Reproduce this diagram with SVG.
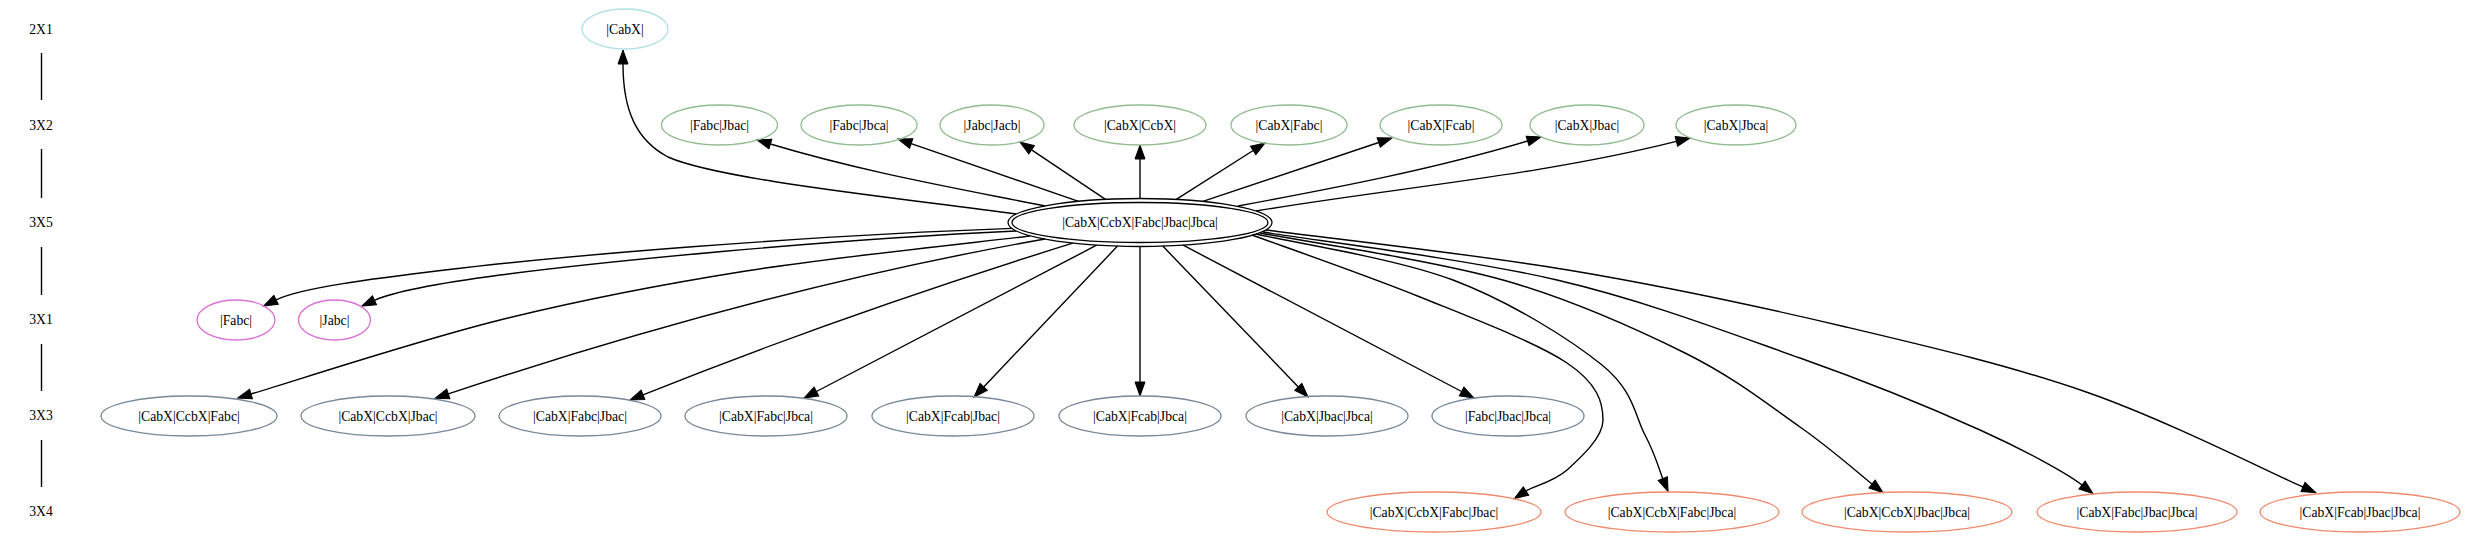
<svg xmlns="http://www.w3.org/2000/svg" width="2467" height="541" viewBox="0 0 2467 541">
<style>
text{font-family:"Liberation Serif","Times New Roman",serif;font-size:13.7px;text-anchor:middle;fill:#000}
ellipse{fill:none;stroke-width:1.3}
.c1 ellipse{stroke:#b0e0e6}
.c2 ellipse{stroke:#8fbc8f}
.c3 ellipse{stroke:#da70d6}
.c4 ellipse{stroke:#778899}
.c5 ellipse{stroke:#ef8a6c}
.c0 ellipse{stroke:#000}
#edges path{fill:none;stroke:#000;stroke-width:1.4;marker-end:url(#ah)}
#ranklines line{stroke:#000;stroke-width:1.4}
</style>
<defs>
<marker id="ah" markerUnits="userSpaceOnUse" markerWidth="16" markerHeight="12" viewBox="0 -6 16 12" refX="0" refY="0" orient="auto" overflow="visible">
<path d="M0,-5 L14,0 L0,5 Z" fill="#000" stroke="#000" stroke-width="1"/>
</marker>
</defs>
<rect width="2467" height="541" fill="#fff"/>

<g id="ranks">
<g id="r2X1"><text x="41" y="33.5">2X1</text></g>
<g id="r3X2"><text x="41" y="129.5">3X2</text></g>
<g id="r3X5"><text x="41" y="227">3X5</text></g>
<g id="r3X1"><text x="41" y="324">3X1</text></g>
<g id="r3X3"><text x="41" y="420">3X3</text></g>
<g id="r3X4"><text x="41" y="516">3X4</text></g>
</g>

<g id="ranklines">
<line x1="41.5" y1="53" x2="41.5" y2="100"/>
<line x1="41.5" y1="149" x2="41.5" y2="198"/>
<line x1="41.5" y1="247" x2="41.5" y2="295"/>
<line x1="41.5" y1="344" x2="41.5" y2="391"/>
<line x1="41.5" y1="440" x2="41.5" y2="487"/>
</g>

<g id="edges">
<path d="M1016,214 C900,198 720,180 668,157 C636,140 623,110 623,64"/>
<path d="M1045,206 C951,187.2 862.4,171.6 770.4,144"/>
<path d="M1078.5,201.3 L911.2,143.6"/>
<path d="M1105.5,199.3 L1031.6,149.8"/>
<path d="M1140,198.5 L1140,159"/>
<path d="M1176.3,199.4 L1253.2,150.5"/>
<path d="M1202.9,201.4 L1378.7,142.5"/>
<path d="M1238,206 C1335.3,187.9 1432.8,169.4 1527.6,141"/>
<path d="M1256,211 C1396,187.6 1538.7,175.9 1676.4,141.4"/>
<path d="M1012,228.4 C800,236 560,256 445,270 C370,279 300,288 276.1,299.8"/>
<path d="M1016,231 C820,240 600,262 500,275 C440,283 395,291 374.5,300.3"/>
<path d="M1030,236 C982.7,241.8 834.3,257 746,271 C657.7,285 582.5,299.5 500,320 C417.5,340.5 292.5,381.7 251,394"/>
<path d="M1045,239 C843,274.5 642.8,329.1 448.3,393.9"/>
<path d="M1072.8,243.2 C927.6,288.2 784,338.4 643,394.8"/>
<path d="M1096.6,245.2 L816.4,391.5"/>
<path d="M1117.5,246.1 L983.7,386.9"/>
<path d="M1140,246.5 L1140,382"/>
<path d="M1162.8,246.1 L1298.3,386.9"/>
<path d="M1183.2,245.2 L1461.6,391.5"/>
<path d="M1252,235 C1280,245.3 1367.5,275.7 1420,297 C1472.5,318.3 1536.5,342.5 1567,363 C1597.5,383.5 1603,402.2 1603,420 C1603,437.8 1579.9,458.3 1567,470 C1554.1,481.7 1532.5,486.75 1526,491"/>
<path d="M1256,234 C1288.8,241.7 1395.3,258.2 1453,280 C1510.7,301.8 1570,339.2 1602,365 C1634,390.8 1634.9,416.1 1645,435 C1655.1,453.9 1659.8,471.3 1662.8,478.6"/>
<path d="M1260,233 C1300.5,240.8 1432.2,260 1503,280 C1573.8,300 1635.5,328.5 1685,353 C1734.5,377.5 1768.8,405.2 1800,427 C1831.2,448.8 1860,474.5 1872,484"/>
<path d="M1263,232 C1312,240 1467.5,259 1557,280 C1646.5,301 1729.5,333 1800,358 C1870.5,383 1933,408.8 1980,430 C2027,451.2 2068,474 2082,485"/>
<path d="M1266,230 C1316.3,236.7 1471.3,253.8 1568,270 C1664.7,286.2 1759.2,306.5 1846,327 C1932.8,347.5 2012.8,366.3 2089,393 C2165.2,419.7 2267.3,471.3 2303,487"/>
</g>

<g id="n_CabX" class="c1"><ellipse cx="625" cy="29" rx="43" ry="20"/><text x="625" y="33.5">|CabX|</text></g>

<g id="n_Fabc_Jbac" class="c2"><ellipse cx="719.5" cy="125" rx="58" ry="20"/><text x="719.5" y="129.5">|Fabc|Jbac|</text></g>
<g id="n_Fabc_Jbca" class="c2"><ellipse cx="859" cy="125" rx="58" ry="20"/><text x="859" y="129.5">|Fabc|Jbca|</text></g>
<g id="n_Jabc_Jacb" class="c2"><ellipse cx="992" cy="125" rx="52" ry="20"/><text x="992" y="129.5">|Jabc|Jacb|</text></g>
<g id="n_CabX_CcbX" class="c2"><ellipse cx="1140" cy="125" rx="66" ry="20"/><text x="1140" y="129.5">|CabX|CcbX|</text></g>
<g id="n_CabX_Fabc" class="c2"><ellipse cx="1289" cy="125" rx="58" ry="20"/><text x="1289" y="129.5">|CabX|Fabc|</text></g>
<g id="n_CabX_Fcab" class="c2"><ellipse cx="1441" cy="125" rx="61" ry="20"/><text x="1441" y="129.5">|CabX|Fcab|</text></g>
<g id="n_CabX_Jbac" class="c2"><ellipse cx="1587" cy="125" rx="57" ry="20"/><text x="1587" y="129.5">|CabX|Jbac|</text></g>
<g id="n_CabX_Jbca" class="c2"><ellipse cx="1736" cy="125" rx="60" ry="20"/><text x="1736" y="129.5">|CabX|Jbca|</text></g>

<g id="n_center" class="c0"><ellipse cx="1140" cy="222.5" rx="132" ry="24"/><ellipse cx="1140" cy="222.5" rx="128" ry="20"/><text x="1140" y="227">|CabX|CcbX|Fabc|Jbac|Jbca|</text></g>

<g id="n_Fabc" class="c3"><ellipse cx="236" cy="320" rx="39" ry="20"/><text x="236" y="324.5">|Fabc|</text></g>
<g id="n_Jabc" class="c3"><ellipse cx="334.5" cy="320" rx="36" ry="20"/><text x="334.5" y="324.5">|Jabc|</text></g>

<g id="n_CabX_CcbX_Fabc" class="c4"><ellipse cx="189" cy="416" rx="88" ry="20"/><text x="189" y="420.5">|CabX|CcbX|Fabc|</text></g>
<g id="n_CabX_CcbX_Jbac" class="c4"><ellipse cx="388" cy="416" rx="87" ry="20"/><text x="388" y="420.5">|CabX|CcbX|Jbac|</text></g>
<g id="n_CabX_Fabc_Jbac" class="c4"><ellipse cx="580" cy="416" rx="81" ry="20"/><text x="580" y="420.5">|CabX|Fabc|Jbac|</text></g>
<g id="n_CabX_Fabc_Jbca" class="c4"><ellipse cx="766" cy="416" rx="81" ry="20"/><text x="766" y="420.5">|CabX|Fabc|Jbca|</text></g>
<g id="n_CabX_Fcab_Jbac" class="c4"><ellipse cx="953" cy="416" rx="81" ry="20"/><text x="953" y="420.5">|CabX|Fcab|Jbac|</text></g>
<g id="n_CabX_Fcab_Jbca" class="c4"><ellipse cx="1140" cy="416" rx="81" ry="20"/><text x="1140" y="420.5">|CabX|Fcab|Jbca|</text></g>
<g id="n_CabX_Jbac_Jbca" class="c4"><ellipse cx="1327" cy="416" rx="81" ry="20"/><text x="1327" y="420.5">|CabX|Jbac|Jbca|</text></g>
<g id="n_Fabc_Jbac_Jbca" class="c4"><ellipse cx="1508" cy="416" rx="76" ry="20"/><text x="1508" y="420.5">|Fabc|Jbac|Jbca|</text></g>

<g id="n_CabX_CcbX_Fabc_Jbac" class="c5"><ellipse cx="1434" cy="512" rx="107" ry="20"/><text x="1434" y="516.5">|CabX|CcbX|Fabc|Jbac|</text></g>
<g id="n_CabX_CcbX_Fabc_Jbca" class="c5"><ellipse cx="1672" cy="512" rx="107" ry="20"/><text x="1672" y="516.5">|CabX|CcbX|Fabc|Jbca|</text></g>
<g id="n_CabX_CcbX_Jbac_Jbca" class="c5"><ellipse cx="1907" cy="512" rx="105" ry="20"/><text x="1907" y="516.5">|CabX|CcbX|Jbac|Jbca|</text></g>
<g id="n_CabX_Fabc_Jbac_Jbca" class="c5"><ellipse cx="2137" cy="512" rx="100" ry="20"/><text x="2137" y="516.5">|CabX|Fabc|Jbac|Jbca|</text></g>
<g id="n_CabX_Fcab_Jbac_Jbca" class="c5"><ellipse cx="2360" cy="512" rx="100" ry="20"/><text x="2360" y="516.5">|CabX|Fcab|Jbac|Jbca|</text></g>
</svg>
